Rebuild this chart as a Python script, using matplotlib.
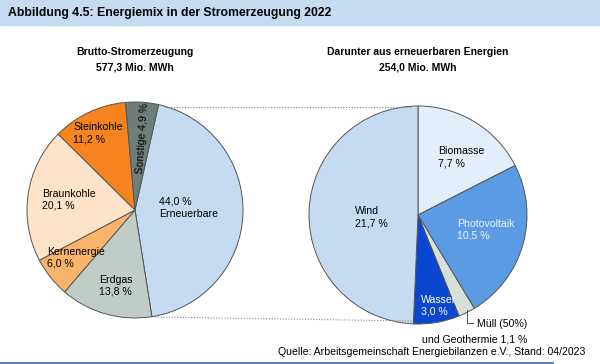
import numpy as np
import matplotlib.pyplot as plt

plt.rcParams["font.family"] = ["Liberation Sans", "DejaVu Sans"]

# Data
left_labels = ["Erneuerbare", "Erdgas", "Kernenergie", "Braunkohle", "Steinkohle", "Sonstige"]
left_values = [44.0, 13.8, 6.0, 20.1, 11.2, 4.9]
left_colors = ["#c5dbf2", "#bfcdc6", "#f9b46c", "#fee3c8", "#f5841f", "#6e7e7a"]

right_labels = ["Biomasse", "Photovoltaik", "Müll (50%) und Geothermie", "Wasser", "Wind"]
right_values = [7.7, 10.5, 1.1, 3.0, 21.7]
right_colors = ["#e2eefa", "#5b9be3", "#d5e0da", "#0a47d0", "#c5dbf2"]

W, H = 600, 364
fig = plt.figure(figsize=(6.0, 3.64), dpi=100)
ax = fig.add_axes([0, 0, 1, 1])


def py(y):
    # pixel row from top -> data y
    return H - y


wedge_style = dict(edgecolor="#555555", linewidth=0.7)

# left pie
lc = (135, py(210))
ax.pie(left_values, colors=left_colors, startangle=90 - 12.6, counterclock=False,
       center=lc, radius=108, wedgeprops=wedge_style, frame=True)

# right pie
rc = (418, py(215))
ax.pie(right_values, colors=right_colors, startangle=90, counterclock=False,
       center=rc, radius=109, wedgeprops=wedge_style, frame=True)
ax.set_xlim(0, W)
ax.set_ylim(0, H)
ax.set_aspect("equal")
ax.axis("off")

# title band
ax.add_patch(plt.Rectangle((0, py(25)), W, 25, color="#c5dbf2", zorder=0))
ax.text(8, py(13), "Abbildung 4.5: Energiemix in der Stromerzeugung 2022",
        fontsize=8.8, fontweight="bold", va="center", ha="left")
ax.plot([0, 552], [py(363), py(363)], color="#4a7cc9", lw=2)

# connector lines
ax.plot([165, 412], [py(107), py(107)], color="#888888", lw=0.8, ls=(0, (1, 1.5)))
ax.plot([155, 412], [py(317), py(321)], color="#888888", lw=0.8, ls=(0, (1, 1.5)))

# headers
hdr = dict(fontsize=7.5, fontweight="bold", ha="center", va="center")
ax.text(135, py(52), "Brutto-Stromerzeugung", **hdr)
ax.text(135, py(68), "577,3 Mio. MWh", **hdr)
ax.text(418, py(52), "Darunter aus erneuerbaren Energien", **hdr)
ax.text(418, py(68), "254,0 Mio. MWh", **hdr)


def pct(v):
    return f"{v:.1f}".replace(".", ",") + " %"


lab = dict(fontsize=7.6, ha="left", va="center", linespacing=1.25)
ax.text(159, py(208), pct(left_values[0]) + "\n" + left_labels[0], **lab)
ax.text(99, py(286), left_labels[1] + "\n" + pct(left_values[1]), **lab)
ax.text(47, py(258), left_labels[2] + "\n" + pct(left_values[2]), **lab)
ax.text(42, py(200), left_labels[3] + "\n" + pct(left_values[3]), **lab)
ax.text(73, py(133), left_labels[4] + "\n" + pct(left_values[4]), **lab)
ax.text(142, py(138), left_labels[5] + " " + pct(left_values[5]), fontsize=7.6,
        ha="center", va="center", rotation=86, rotation_mode="anchor")

ax.text(438, py(157), right_labels[0] + "\n" + pct(right_values[0]), **lab)
ax.text(457, py(230), right_labels[1] + "\n" + pct(right_values[1]), color="#eef4fc", **lab)
ax.text(421, py(306), right_labels[3] + "\n" + pct(right_values[3]), color="white", **lab)
ax.text(355, py(217), right_labels[4] + "\n" + pct(right_values[4]), **lab)

# Müll leader
ax.plot([467, 467, 473], [py(310), py(323), py(323)], color="#555555", lw=0.7)
ax.text(527, py(324), "Müll (50%)", fontsize=7.6, ha="right", va="center")
ax.text(527, py(339), "und Geothermie " + pct(right_values[2]), fontsize=7.6,
        ha="right", va="center")

ax.text(585, py(352), "Quelle: Arbeitsgemeinschaft Energiebilanzen e.V., Stand: 04/2023",
        fontsize=7.6, ha="right", va="center")

fig.savefig("out.png", dpi=100)
